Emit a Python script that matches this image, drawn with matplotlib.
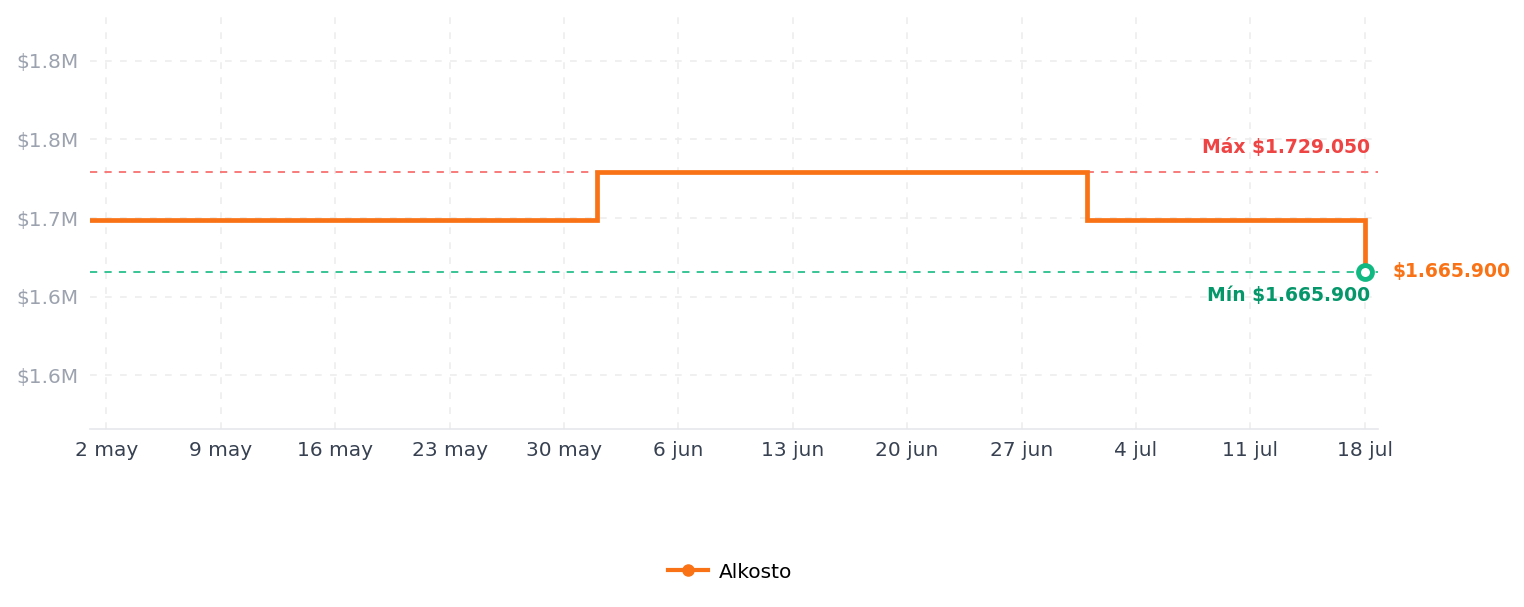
import numpy as np
import pandas as pd
import matplotlib
matplotlib.use("Agg")
import matplotlib.pyplot as plt
import matplotlib.dates as mdates
from matplotlib.lines import Line2D

# price history (step changes)
dates = pd.to_datetime(["2025-05-01", "2025-06-01", "2025-07-01", "2025-07-18"])
prices = [1698700, 1729050, 1698700, 1665900]
store = "Alkosto"

price_max = 1729050
price_min = 1665900

y_ticks = [1600000, 1650000, 1700000, 1750000, 1800000]
y_tick_labels = ["$1.6M", "$1.6M", "$1.7M", "$1.8M", "$1.8M"]
x_ticks = pd.date_range("2025-05-02", "2025-07-18", freq="7D")
months = {5: "may", 6: "jun", 7: "jul"}
x_tick_labels = [f"{d.day} {months[d.month]}" for d in x_ticks]

orange = "#f97316"
red = "#ef4444"
green = "#10b981"
dark_green = "#059669"


def fmt_cop(v):
    return "$" + f"{v:,.0f}".replace(",", ".")


fig = plt.figure(figsize=(15.24, 6.07), dpi=100)
ax = fig.add_axes([90 / 1524, 1 - 429 / 607, (1377.7 - 90) / 1524, (429 - 15) / 607])

ax.step(dates, prices, where="post", color=orange, lw=3.4, zorder=4,
        solid_joinstyle="miter")
ax.axhline(price_max, color="#f87171", lw=1.3, ls=(0, (4, 4)), zorder=2)
ax.axhline(price_min, color=green, lw=1.3, ls=(0, (4, 4)), alpha=0.9, zorder=2)
ax.plot(dates[-1], prices[-1], "o", ms=10, mfc="white", mec=green, mew=3.5, zorder=5)

ax.set_ylim(price_min - 100000, price_max + 100000)
ax.set_xlim(dates[0], dates[-1] + pd.Timedelta(hours=19))

ax.set_yticks(y_ticks)
ax.set_yticklabels(y_tick_labels)
ax.set_xticks(x_ticks)
ax.set_xticklabels(x_tick_labels)
ax.tick_params(axis="y", length=0, pad=8, labelsize=14.5, labelcolor="#9ca3af")
ax.tick_params(axis="x", length=0, pad=9, labelsize=14.5, labelcolor="#374151")

ax.grid(True, color="#ededed", lw=1.2, ls=(0, (4, 5)))
ax.set_axisbelow(True)
for s in ["top", "right", "left"]:
    ax.spines[s].set_visible(False)
ax.spines["bottom"].set_color("#e5e7eb")
ax.spines["bottom"].set_linewidth(1.2)

# annotations
ax.annotate(f"Máx {fmt_cop(price_max)}", xy=(dates[-1], price_max),
            xytext=(4, 18), textcoords="offset points", ha="right", va="center",
            color=red, fontsize=13.5, fontweight="bold")
ax.annotate(f"Mín {fmt_cop(price_min)}", xy=(dates[-1], price_min),
            xytext=(4, -17), textcoords="offset points", ha="right", va="center",
            color=dark_green, fontsize=13.5, fontweight="bold")
ax.annotate(fmt_cop(prices[-1]), xy=(dates[-1], prices[-1]),
            xytext=(20, 0), textcoords="offset points", ha="left", va="center",
            color=orange, fontsize=13.5, fontweight="bold", annotation_clip=False)

handle = Line2D([0], [0], color=orange, lw=3, marker="o", ms=8)
fig.legend([handle], [store], loc="center", bbox_to_anchor=(0.479, 1 - 572 / 607),
           frameon=False, fontsize=14.5, handlelength=2.0, handletextpad=0.5)

fig.savefig("out.png", dpi=100)
